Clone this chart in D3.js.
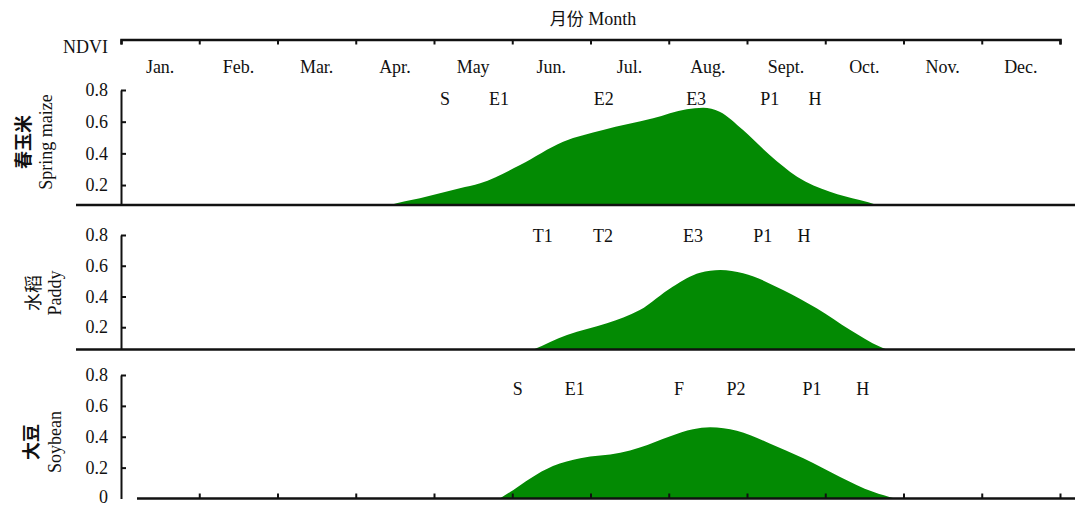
<!DOCTYPE html>
<html>
<head>
<meta charset="utf-8">
<script src="https://cdn.jsdelivr.net/npm/d3@7"></script>
<style>
  body { margin: 0; background: #fff; }
  svg { display: block; }
  text { font-family: "Liberation Serif", "Times New Roman", serif; fill: #111; }
  .cjk { font-family: "Noto Sans CJK SC", sans-serif; }
</style>
</head>
<body>
<svg id="chart" width="1075" height="506"></svg>
<script>
// Months (x is measured in months from 1 January)
const months = ["Jan.", "Feb.", "Mar.", "Apr.", "May", "Jun.", "Jul.", "Aug.", "Sept.", "Oct.", "Nov.", "Dec."];
const yTicks = [0.2, 0.4, 0.6, 0.8];

// Spring maize NDVI profile
const maizeMonth = [3.30, 3.44, 3.82, 4.33, 4.59, 5.10, 5.65, 6.16, 6.80, 7.23, 7.44, 7.65, 7.95, 8.29, 8.64, 9.06, 9.44, 9.66, 9.80];
const maizeNdvi  = [0.05, 0.074, 0.116, 0.179, 0.211, 0.326, 0.473, 0.547, 0.621, 0.678, 0.688, 0.663, 0.547, 0.390, 0.253, 0.158, 0.105, 0.074, 0.05];
const maizeStageNames = ["S", "E1", "E2", "E3", "P1", "H"];
const maizeStageMonth = [4.14, 4.83, 6.17, 7.35, 8.29, 8.87];

// Paddy rice NDVI profile
const paddyMonth = [5.15, 5.27, 5.70, 6.21, 6.63, 7.05, 7.40, 7.66, 7.95, 8.46, 8.89, 9.32, 9.70, 9.79, 9.90];
const paddyNdvi  = [0.03, 0.055, 0.150, 0.226, 0.312, 0.464, 0.555, 0.572, 0.551, 0.442, 0.323, 0.182, 0.073, 0.055, 0.03];
const paddyStageNames = ["T1", "T2", "E3", "P1", "H"];
const paddyStageMonth = [5.39, 6.16, 7.31, 8.20, 8.73];

// Soybean NDVI profile
const soyMonth = [4.84, 5.01, 5.23, 5.52, 5.87, 6.38, 6.63, 7.02, 7.31, 7.53, 7.87, 8.29, 8.72, 9.19, 9.61, 9.89];
const soyNdvi  = [0.0, 0.054, 0.130, 0.21, 0.26, 0.296, 0.331, 0.404, 0.448, 0.461, 0.439, 0.357, 0.26, 0.140, 0.043, 0.0];
const soyStageNames = ["S", "E1", "F", "P2", "P1", "H"];
const soyStageMonth = [5.07, 5.80, 7.13, 7.86, 8.83, 9.48];

const panels = [
  { zh: "春玉米", en: "Spring maize", bold: true, month: maizeMonth, ndvi: maizeNdvi,
    stages: maizeStageNames, stageMonth: maizeStageMonth, yMin: 0.074,
    top: 90, base: 205, stageY: 105, zhX: 22, enX: 46, labelY: 142, zero: false },
  { zh: "水稻", en: "Paddy", bold: false, month: paddyMonth, ndvi: paddyNdvi,
    stages: paddyStageNames, stageMonth: paddyStageMonth, yMin: 0.055,
    top: 235, base: 349.5, stageY: 242, zhX: 32, enX: 55, labelY: 293, zero: false },
  { zh: "大豆", en: "Soybean", bold: true, month: soyMonth, ndvi: soyNdvi,
    stages: soyStageNames, stageMonth: soyStageMonth, yMin: 0,
    top: 375, base: 498.5, stageY: 395, zhX: 30, enX: 55, labelY: 442, zero: true }
];

const svg = d3.select("#chart");
const W = 1075;
const FS = 18;
const x = d3.scaleLinear().domain([0, 12]).range([121, 1060]);
const green = "#038a03";

// ---- top month axis ----
const topAxisY = 39.5;
const topAxis = svg.append("g").attr("transform", `translate(0,${topAxisY})`)
  .call(d3.axisBottom(x).tickValues(d3.range(13)).tickSize(5).tickSizeOuter(5).tickFormat(""));
topAxis.select(".domain").attr("stroke", "#111").attr("stroke-width", 2.5);
topAxis.selectAll(".tick line").attr("stroke", "#111").attr("stroke-width", 2);

svg.append("g").selectAll("text").data(months).join("text")
  .attr("x", (d, i) => x(i + 0.5))
  .attr("y", 73)
  .attr("text-anchor", "middle")
  .attr("font-size", FS)
  .text(d => d);

svg.append("text").attr("x", 108).attr("y", 53).attr("text-anchor", "end")
  .attr("font-size", FS).text("NDVI");

const title = svg.append("text").attr("x", 593).attr("y", 25).attr("text-anchor", "middle").attr("font-size", FS);
title.append("tspan").attr("class", "cjk").attr("font-size", 17).text("月份");
title.append("tspan").text(" Month");

// ---- panels ----
panels.forEach(p => {
  const y = d3.scaleLinear().domain([p.yMin, 0.8]).range([p.base, p.top]);
  const g = svg.append("g");

  const clipId = "clip-" + p.en.replace(/\s/g, "");
  svg.append("clipPath").attr("id", clipId)
    .append("rect").attr("x", x(0)).attr("y", p.top - 20).attr("width", x(12) - x(0)).attr("height", p.base - p.top + 20);

  const pts = p.month.map((m, i) => [m, p.ndvi[i]]);
  const area = d3.area()
    .x(d => x(d[0]))
    .y0(y(p.yMin))
    .y1(d => y(Math.max(d[1], p.yMin - 0.03)))
    .curve(d3.curveMonotoneX);
  g.append("path").datum(pts)
    .attr("clip-path", `url(#${clipId})`)
    .attr("d", area)
    .attr("fill", green);

  // y axis
  const ticks = p.zero ? [0].concat(yTicks) : yTicks;
  const ya = g.append("g").attr("transform", `translate(${x(0)},0)`)
    .call(d3.axisLeft(y).tickValues(ticks).tickSizeInner(-5).tickSizeOuter(0).tickPadding(13)
      .tickFormat(d => d === 0 ? "0" : d3.format(".1f")(d)));
  ya.select(".domain").attr("stroke", "#111").attr("stroke-width", 2);
  ya.selectAll(".tick line").attr("stroke", "#111").attr("stroke-width", 2)
    .attr("display", d => d === 0 ? "none" : null);
  ya.selectAll(".tick text").attr("font-size", FS).attr("font-family", "Liberation Serif").attr("fill", "#111")
    .attr("dy", d => d === 0 ? "0.2em" : "0.32em");

  // baseline
  if (p.zero) {
    const xb = g.append("g").attr("transform", `translate(0,${p.base})`)
      .call(d3.axisTop(x).tickValues(d3.range(1, 13)).tickSize(5).tickSizeOuter(0).tickFormat(""));
    xb.select(".domain").remove();
    xb.selectAll(".tick line").attr("stroke", "#111").attr("stroke-width", 2);
    g.append("line").attr("x1", 137).attr("x2", W).attr("y1", p.base).attr("y2", p.base)
      .attr("stroke", "#111").attr("stroke-width", 2.5);
  } else {
    g.append("line").attr("x1", 76).attr("x2", W).attr("y1", p.base).attr("y2", p.base)
      .attr("stroke", "#111").attr("stroke-width", 2.5);
  }

  // growth stage labels
  g.selectAll("text.stage").data(p.stages).join("text")
    .attr("class", "stage")
    .attr("x", (d, i) => x(p.stageMonth[i]))
    .attr("y", p.stageY)
    .attr("text-anchor", "middle")
    .attr("font-size", FS)
    .text(d => d);

  // crop names (rotated)
  g.append("text").attr("class", "cjk")
    .attr("transform", `translate(${p.zhX},${p.labelY}) rotate(-90)`)
    .attr("text-anchor", "middle").attr("dominant-baseline", "central")
    .attr("font-size", 18).attr("font-weight", p.bold ? "bold" : "normal")
    .text(p.zh);
  g.append("text")
    .attr("transform", `translate(${p.enX},${p.labelY}) rotate(-90)`)
    .attr("text-anchor", "middle").attr("dominant-baseline", "central")
    .attr("font-size", 18)
    .text(p.en);
});
</script>
</body>
</html>
